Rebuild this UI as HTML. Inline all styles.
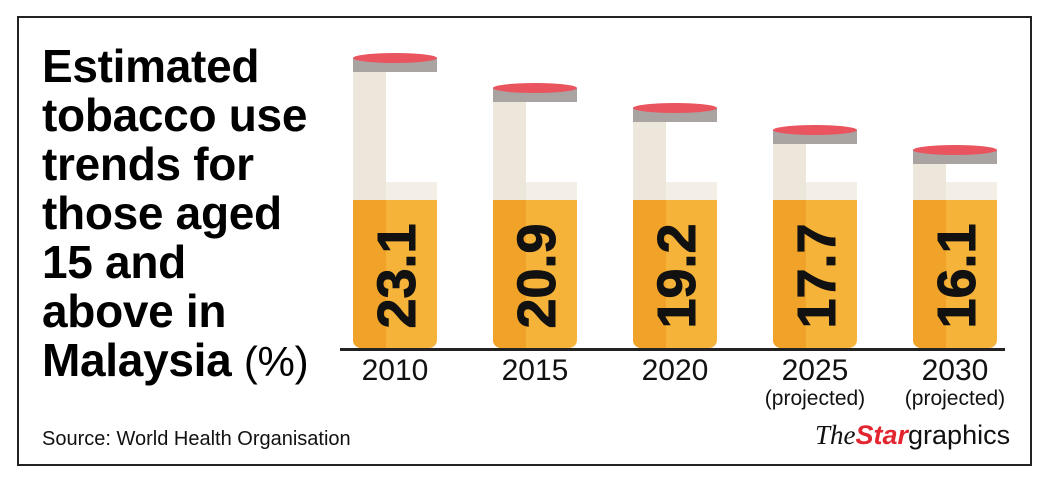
<!DOCTYPE html>
<html><head><style>
body{margin:0;width:1047px;height:480px;background:#fff;position:relative;font-family:"Liberation Sans",sans-serif;overflow:hidden}
.frame{position:absolute;left:17px;top:16px;width:1011px;height:446px;border:2px solid #222}
.title{position:absolute;left:42px;top:42px;font-weight:bold;font-size:46px;line-height:49px;color:#000;letter-spacing:-0.3px}
.title span{font-weight:normal;font-size:42px}
.bar{position:absolute;width:84px}
.cap{position:absolute;left:0;width:84px;height:10px;background:#e9545e;border-radius:50%}
.gray{position:absolute;left:0;width:84px;background:#a9a3a1}
.lt{position:absolute;left:0;width:33px;background:#ede6da}
.lt2{position:absolute;left:33px;width:51px;top:182px;height:18px;background:#f3eee6}
.or{position:absolute;left:0;top:200px;height:148px;width:84px;background:#f6b33a;border-radius:0 0 8px 8px;overflow:hidden}
.or i{position:absolute;left:0;top:0;width:33px;height:100%;background:#f0a328}
.num{position:absolute;left:0;top:200px;width:84px;height:148px}
.num b{position:absolute;left:44px;top:76px;transform:translate(-50%,-50%) rotate(-90deg);font-size:54px;font-weight:900;color:#111;white-space:nowrap;-webkit-text-stroke:1px #111}
.axis{position:absolute;left:340px;top:348px;width:665px;height:3px;background:#222}
.yr{position:absolute;width:140px;text-align:center;font-size:30px;color:#111;top:355px;line-height:32px}
.yr small{display:block;font-size:21px;line-height:24px}
.src{position:absolute;left:42px;top:428px;font-size:20px;color:#111}
.logo{position:absolute;left:815px;top:420px;font-size:27px;color:#111;white-space:nowrap}
</style></head><body>
<div class="frame"></div>
<div class="title">Estimated<br>tobacco use<br>trends for<br>those aged<br>15 and<br>above in<br>Malaysia <span>(%)</span></div>

<div class="bar" style="left:353px;top:0">
<div class="lt" style="top:70px;height:112px"></div><div class="lt" style="top:182px;height:18px"></div><div class="lt2"></div>
<div class="gray" style="top:58px;height:14px"></div><div class="cap" style="top:53px"></div>
<div class="or"><i></i></div><div class="num"><b>23.1</b></div></div>

<div class="bar" style="left:493px;top:0">
<div class="lt" style="top:100px;height:82px"></div><div class="lt" style="top:182px;height:18px"></div><div class="lt2"></div>
<div class="gray" style="top:88px;height:14px"></div><div class="cap" style="top:83px"></div>
<div class="or"><i></i></div><div class="num"><b>20.9</b></div></div>

<div class="bar" style="left:633px;top:0">
<div class="lt" style="top:120px;height:62px"></div><div class="lt" style="top:182px;height:18px"></div><div class="lt2"></div>
<div class="gray" style="top:108px;height:14px"></div><div class="cap" style="top:103px"></div>
<div class="or"><i></i></div><div class="num"><b>19.2</b></div></div>

<div class="bar" style="left:773px;top:0">
<div class="lt" style="top:142px;height:40px"></div><div class="lt" style="top:182px;height:18px"></div><div class="lt2"></div>
<div class="gray" style="top:130px;height:14px"></div><div class="cap" style="top:125px"></div>
<div class="or"><i></i></div><div class="num"><b>17.7</b></div></div>

<div class="bar" style="left:913px;top:0">
<div class="lt" style="top:162px;height:20px"></div><div class="lt" style="top:182px;height:18px"></div><div class="lt2"></div>
<div class="gray" style="top:150px;height:14px"></div><div class="cap" style="top:145px"></div>
<div class="or"><i></i></div><div class="num"><b>16.1</b></div></div>

<div class="axis"></div>
<div class="yr" style="left:325px">2010</div>
<div class="yr" style="left:465px">2015</div>
<div class="yr" style="left:605px">2020</div>
<div class="yr" style="left:745px">2025<small>(projected)</small></div>
<div class="yr" style="left:885px">2030<small>(projected)</small></div>
<div class="src">Source: World Health Organisation</div>
<div class="logo"><i style="font-family:'Liberation Serif',serif">The</i><b style="color:#e32530;font-style:italic">Star</b><span>graphics</span></div>
</body></html>
